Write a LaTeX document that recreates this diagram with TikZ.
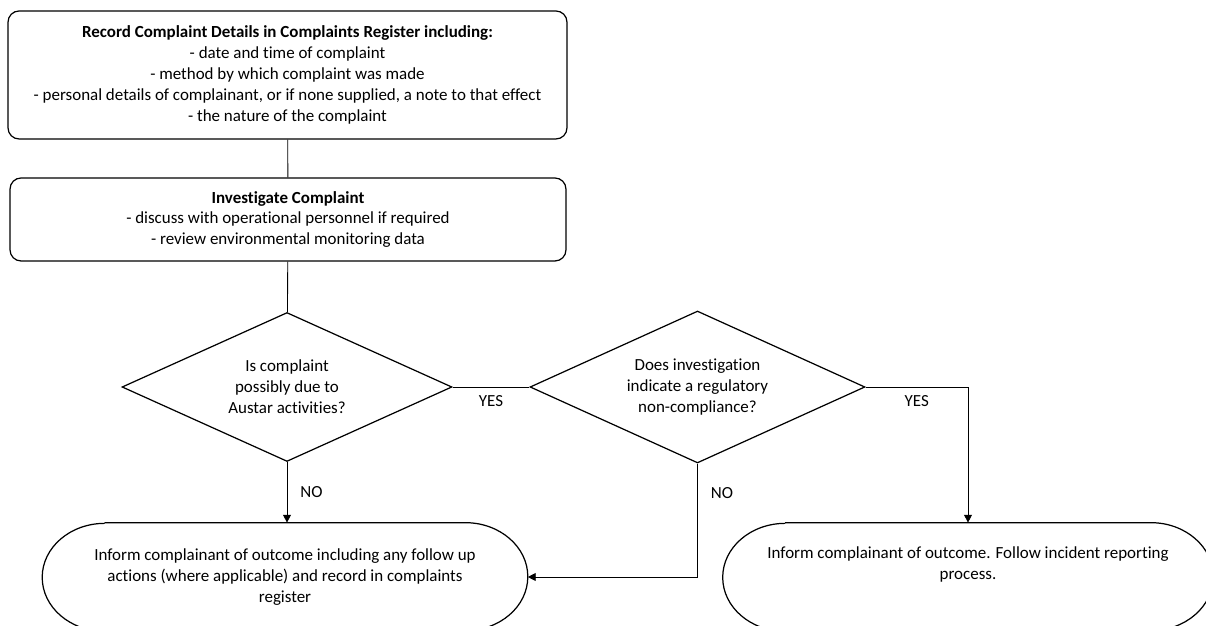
\documentclass[tikz,border=0pt]{standalone}
\usepackage{fontspec}
\setmainfont[Ligatures=NoCommon]{Carlito}
\usetikzlibrary{shapes.geometric,arrows.meta}

\tikzset{
  process/.style={rectangle, rounded corners=0.22cm, draw, line width=0.7pt, align=center},
  decision/.style={diamond, draw, line width=0.7pt, align=center, inner sep=0pt, shape aspect=2.2},
  terminal/.style={rectangle, align=center, minimum width=#1, minimum height=2.16cm},
  flow/.style={line width=0.5pt},
  arrow/.style={line width=0.5pt, -{Triangle[length=4.5pt,width=4.5pt]}}
}
% outline of a terminal node: flat top and bottom, half ellipses at the ends
\newcommand\terminalline[1]{%
  \draw[line width=0.7pt] ([xshift=1.25cm]#1.north west) -- ([xshift=-1.25cm]#1.north east)
    arc[start angle=90, end angle=-90, x radius=1.25cm, y radius=1.08cm]
    -- ([xshift=1.25cm]#1.south west)
    arc[start angle=270, end angle=90, x radius=1.25cm, y radius=1.08cm];}

\begin{document}
\begin{tikzpicture}[x=0.02cm, y=0.02cm, font=\fontsize{9.65}{11.9}\selectfont]
  \useasboundingbox (0,0) rectangle (1206,625);
  \clip (0,0) rectangle (1206,625);

  \node[process, minimum width=11.18cm, minimum height=2.56cm] (rec) at (287.5,550)
    {\textbf{Record Complaint Details in Complaints Register including:}\\
     - date and time of complaint\\
     - method by which complaint was made\\
     - personal details of complainant, or if none supplied, a note to that effect\\
     - the nature of the complaint};
  \node[process, minimum width=11.12cm, minimum height=1.66cm] (inv) at (288,405.5)
    {\textbf{Investigate Complaint}\\
     - discuss with operational personnel if required\\
     - review environmental monitoring data};
  \node[decision, minimum width=6.6cm, minimum height=2.98cm] (q1) at (287,238)
    {Is complaint\\ possibly due to\\ Austar activities?};
  \node[decision, minimum width=6.7cm, minimum height=3.04cm] (q2) at (697.5,238)
    {Does investigation\\ indicate a regulatory\\ non-compliance?};
  \node[terminal=9.7cm] (inf1) at (285,48)
    {Inform complainant of outcome including any follow up\\
     actions (where applicable) and record in complaints\\ register};
  \node[terminal=9.8cm] (inf2) at (968,48)
    {Inform complainant of outcome. Follow incident reporting\\ process.\\ \strut};
  \terminalline{inf1}
  \terminalline{inf2}

  % connectors
  \draw[flow] (rec) -- (inv);
  \draw[flow] (inv) -- (q1);
  \draw[flow] (q1) -- node[below=1pt] {YES} (q2);
  \draw[arrow] (q1.south) -- node[right=4pt] {NO} (q1.south |- inf1.north);
  \draw[arrow] (q2.east) -| node[pos=0.25, below=1pt] {YES} (inf2.north);
  \draw[arrow] (q2.south) |- node[pos=0.13, right=4pt] {NO} (inf1.east);
\end{tikzpicture}
\end{document}
